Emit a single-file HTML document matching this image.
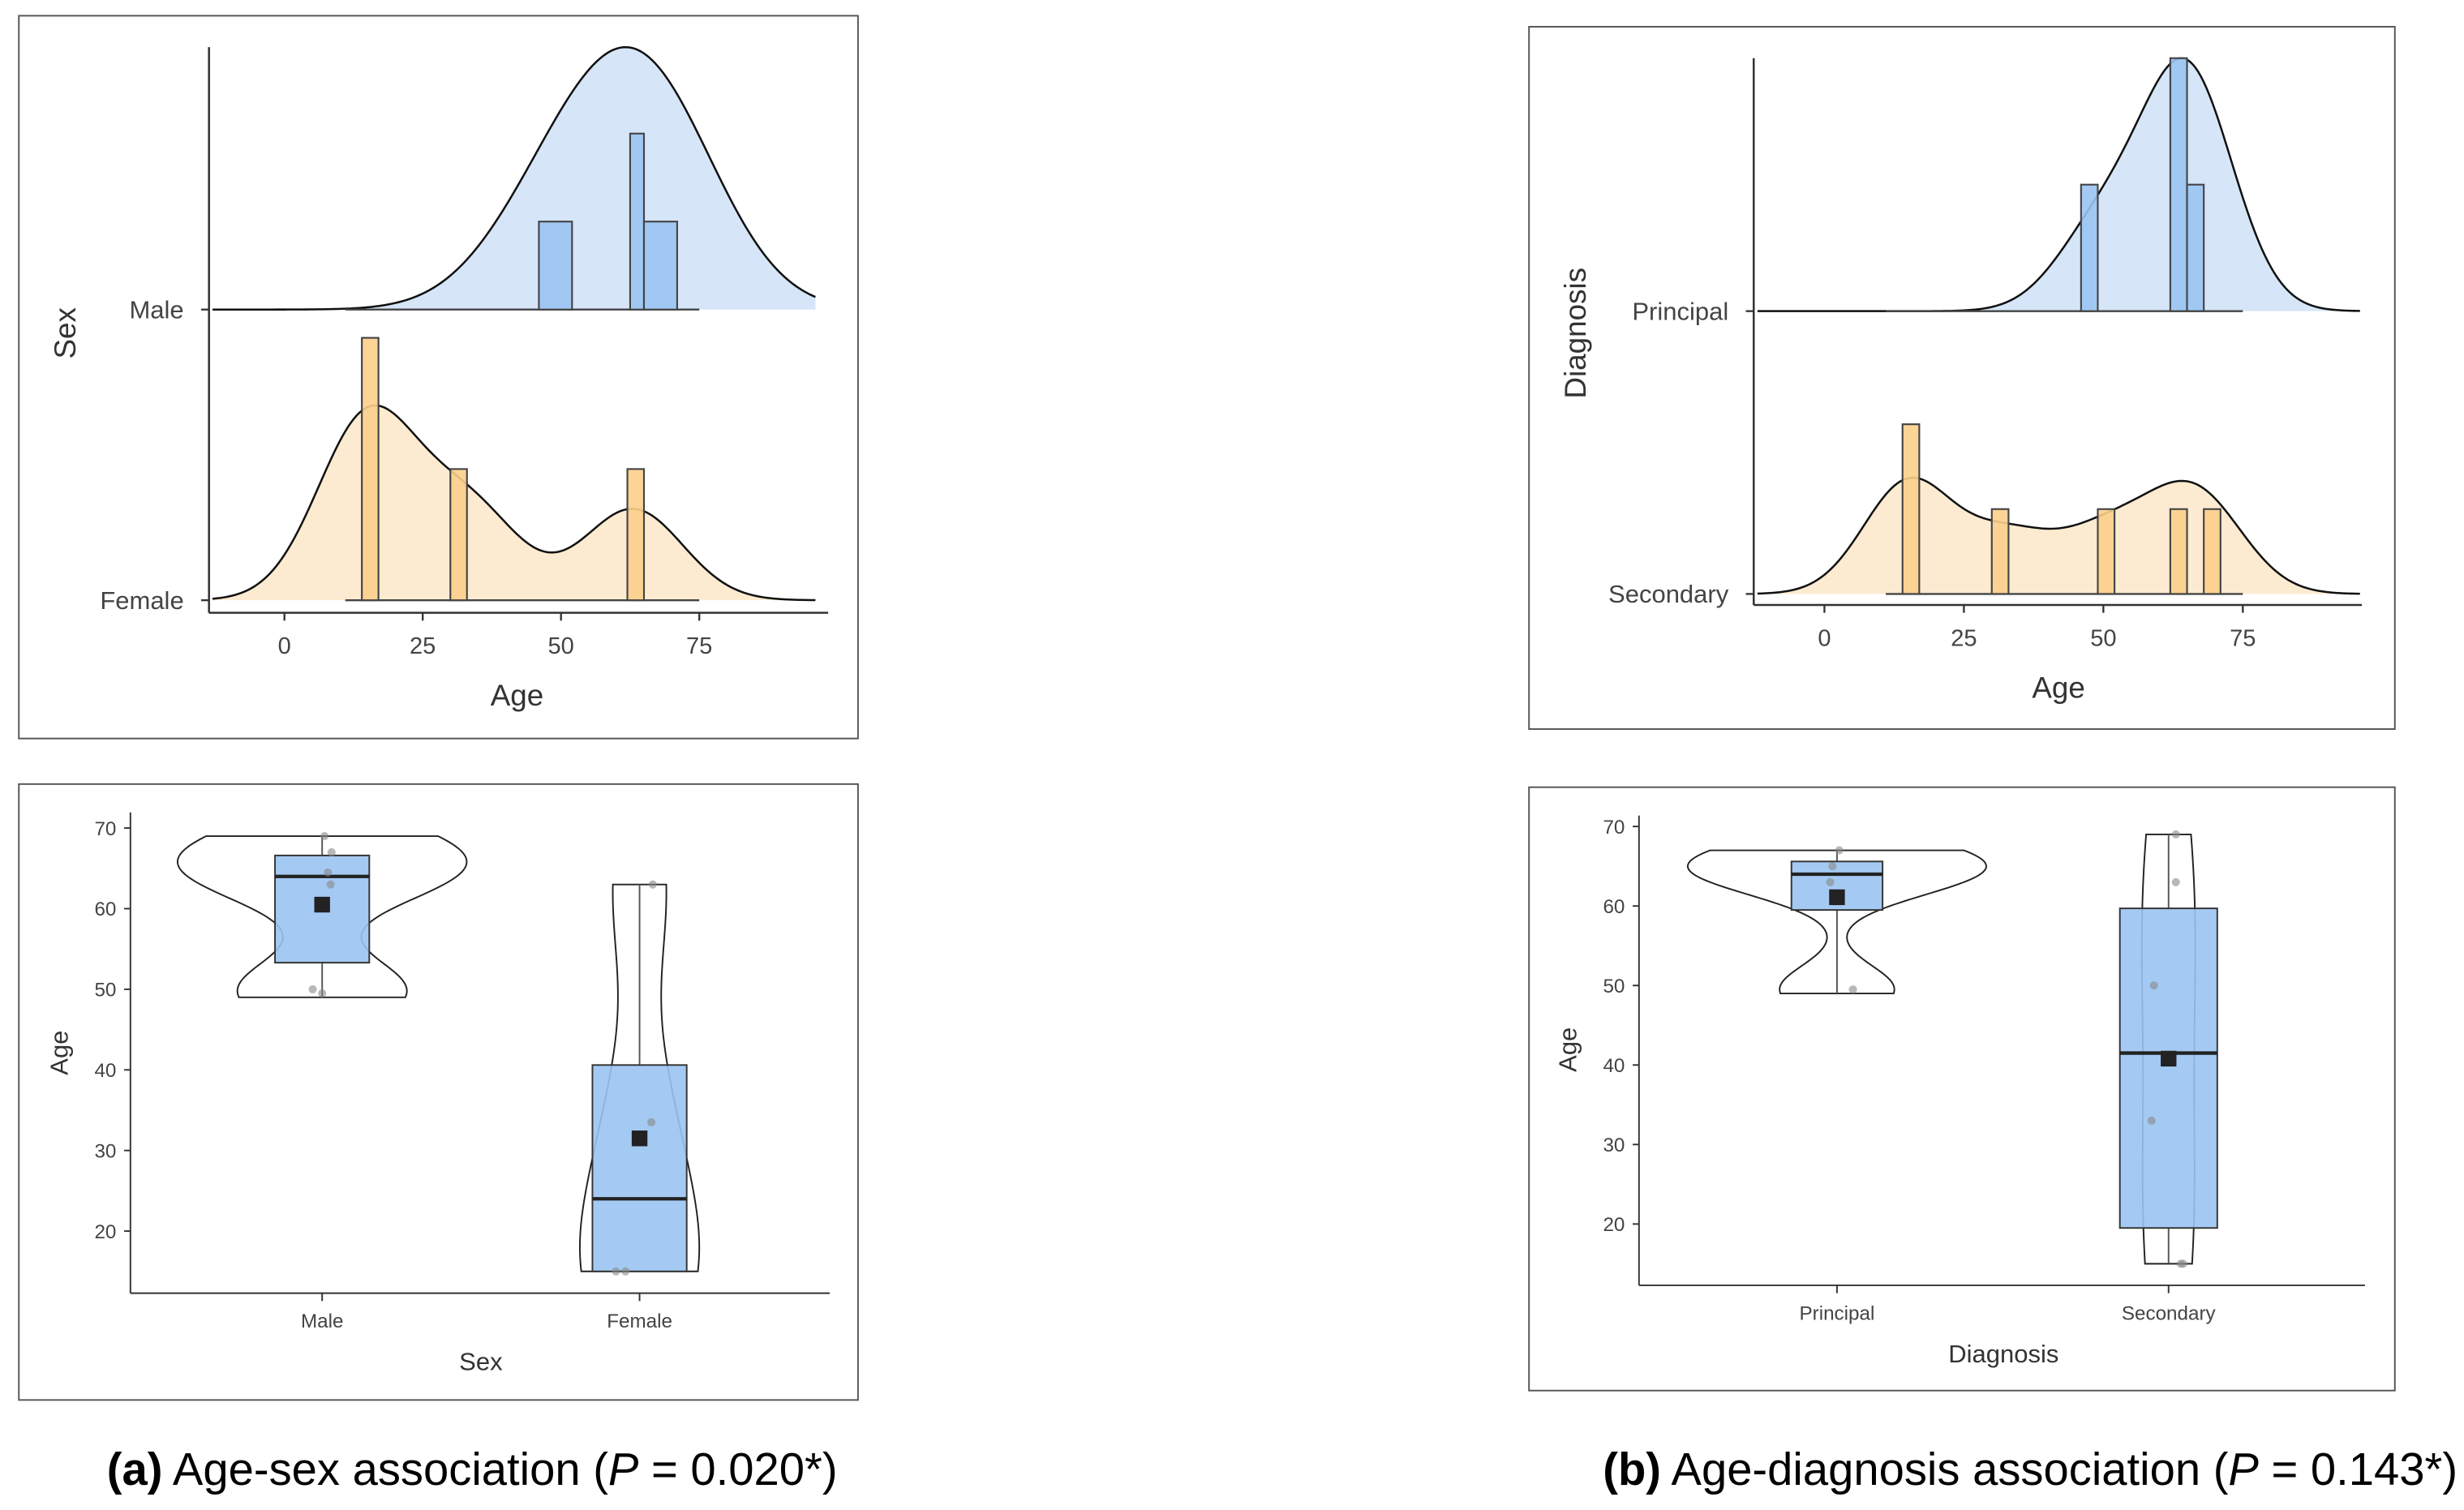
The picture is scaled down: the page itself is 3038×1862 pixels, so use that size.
<!DOCTYPE html>
<html><head><meta charset="utf-8">
<style>
html,body{margin:0;padding:0;background:#fff;}
svg{display:block;}
text{font-family:"Liberation Sans",sans-serif;}
</style></head>
<body>
<svg id="fig" width="3038" height="1862" viewBox="0 0 1568 961" xmlns="http://www.w3.org/2000/svg">
<rect x="0" y="0" width="1568" height="961" fill="#fff"/>
<g id="root"></g>
<text x="68" y="945" font-size="29" fill="#000"><tspan font-weight="bold">(a)</tspan> Age-sex association (<tspan font-style="italic">P</tspan> = 0.020*)</text>
<text x="1020" y="945" font-size="29" fill="#000"><tspan font-weight="bold">(b)</tspan> Age-diagnosis association (<tspan font-style="italic">P</tspan> = 0.143*)</text>
</svg>
<script>
// ---- data ----
const maleAges = [69, 67, 64.5, 63, 50, 49.5];
const femaleAges = [15, 15, 33.5, 63];
const principalAges = [67, 65, 63, 49.5];
const secondaryAges = [15, 15, 33, 50, 63, 69];
const maleBins = [[46,52,1],[62.5,65,2],[65,71,1]];
const femaleBins = [[14,17,2],[30,33,1],[62,65,1]];
const principalBins = [[46,49,1],[62,65,2],[65,68,1]];
const secondaryBins = [[14,17,2],[30,33,1],[49,52,1],[62,65,1],[68,71,1]];
const ridgeTicks = [0,25,50,75];
const boxTicks = [20,30,40,50,60,70];
const maleStats = {min:49, q1:53.3, med:64, q3:66.6, max:69, mean:60.5};
const femaleStats = {min:15, q1:15, med:24, q3:40.6, max:63, mean:31.5};
const principalStats = {min:49, q1:59.5, med:64, q3:65.6, max:67, mean:61.1};
const secondaryStats = {min:15, q1:19.5, med:41.5, q3:59.7, max:69, mean:40.8};
const maleJitter = [0.05,0.2,0.12,0.18,-0.2,0];
const femaleJitter = [-0.5,-0.3,0.25,0.28];
const principalJitter = [0.05,-0.1,-0.15,0.35];
const secondaryJitter = [0.25,0.3,-0.35,-0.3,0.15,0.15];

const NS='http://www.w3.org/2000/svg';
const root=document.getElementById('root');
function el(tag,attrs,parent){const e=document.createElementNS(NS,tag);for(const k in attrs)e.setAttribute(k,attrs[k]);(parent||root).appendChild(e);return e;}
function txt(s,attrs,parent){const e=el('text',attrs,parent);e.textContent=s;return e;}
function kde(data,bw,x){let s=0;for(const d of data){const z=(x-d)/bw;s+=Math.exp(-0.5*z*z);}return s/(data.length*bw*Math.sqrt(2*Math.PI));}

function ridgePanel(o){
  const g=el('g',{});
  
  
  const fr=el('rect',{x:o.bx,y:o.by,width:o.bw,height:o.bh,fill:'#fff',stroke:'#555','stroke-width':1},g);
  
  const xs=v=>o.x0+(v-0)*o.pxPerYear;
  o.groups.forEach(gr=>{
    let maxd=0;const pts=[];
    for(let a=o.amin;a<=o.amax;a+=0.5){const d=kde(gr.ages,gr.bw,a);pts.push([a,d]);if(d>maxd)maxd=d;}
    let p='M'+xs(o.amin)+','+gr.base;
    pts.forEach(q=>{p+=' L'+xs(q[0]).toFixed(2)+','+(gr.base-q[1]/maxd*gr.peak).toFixed(2);});
    const area=el('path',{d:p+' L'+xs(o.amax)+','+gr.base+' Z',fill:gr.fill,stroke:'none'},g);
    
    let lp='';pts.forEach((q,i)=>{lp+=(i?' L':'M')+xs(q[0]).toFixed(2)+','+(gr.base-q[1]/maxd*gr.peak).toFixed(2);});
    const line=el('path',{d:lp,fill:'none',stroke:'#111','stroke-width':1.3},g);
    
    const bl=el('line',{x1:xs(11),x2:xs(75),y1:gr.base,y2:gr.base,stroke:'#444','stroke-width':1.2},g);
    
    const maxc=Math.max(...gr.bins.map(b=>b[2]));
    gr.bins.forEach(b=>{
      const h=b[2]/maxc*gr.histMax;
      const r=el('rect',{x:xs(b[0]),y:gr.base-h,width:xs(b[1])-xs(b[0]),height:h,fill:gr.hist,stroke:'#444','stroke-width':1.1,'fill-opacity':0.9},g);
      
    });
    const tk=el('line',{x1:o.axX-5,x2:o.axX,y1:gr.base,y2:gr.base,stroke:'#333','stroke-width':1.2},g);
    
    const lt=txt(gr.label,{x:o.axX-16,y:gr.base+5.5,'text-anchor':'end','font-size':16,fill:'#444'},g);
    
  });
  const ya=el('line',{x1:o.axX,x2:o.axX,y1:o.yTop,y2:o.axY,stroke:'#333','stroke-width':1.3},g);
  
  const xa=el('line',{x1:o.axX,x2:o.axXEnd,y1:o.axY,y2:o.axY,stroke:'#333','stroke-width':1.3},g);
  
  ridgeTicks.forEach(t=>{
    const l=el('line',{x1:xs(t),x2:xs(t),y1:o.axY,y2:o.axY+5,stroke:'#333','stroke-width':1.2},g);
    
    const s=txt(String(t),{x:xs(t),y:o.axY+26,'text-anchor':'middle','font-size':15,fill:'#444'},g);
    
  });
  const xt=txt('Age',{x:o.xTitleX,y:o.axY+59,'text-anchor':'middle','font-size':19,fill:'#333'},g);
  
  const yt=txt(o.yTitle,{x:0,y:0,'text-anchor':'middle','font-size':19,fill:'#333',transform:'translate('+o.yTitleX+','+o.yTitleY+') rotate(-90)'},g);
  
}

function boxPanel(o){
  const g=el('g',{});
  
  
  const fr=el('rect',{x:o.bx,y:o.by,width:o.bw,height:o.bh,fill:'#fff',stroke:'#555','stroke-width':1},g);
  
  const ys=v=>o.y70+(70-v)*o.pxPerUnit;
  o.groups.forEach(gr=>{
    const s=gr.stats,cx=gr.cx,n=gr.label.toLowerCase();
    let maxd=0;const pts=[];
    for(let a=s.min;a<=s.max+1e-6;a+=(s.max-s.min)/80){const d=kde(gr.ages,gr.vbw,a);pts.push([a,d]);if(d>maxd)maxd=d;}
    let p='';pts.forEach((q,i)=>{p+=(i?' L':'M')+(cx+q[1]/maxd*gr.vw).toFixed(2)+','+ys(q[0]).toFixed(2);});
    for(let i=pts.length-1;i>=0;i--){p+=' L'+(cx-pts[i][1]/maxd*gr.vw).toFixed(2)+','+ys(pts[i][0]).toFixed(2);}
    const v=el('path',{d:p+' Z',fill:'#fff',stroke:'#222','stroke-width':1},g);
    
    const w1=el('line',{x1:cx,x2:cx,y1:ys(s.max),y2:ys(s.q3),stroke:'#555','stroke-width':1},g);
    
    const w2=el('line',{x1:cx,x2:cx,y1:ys(s.q1),y2:ys(s.min),stroke:'#555','stroke-width':1},g);
    
    const b=el('rect',{x:cx-gr.boxHalf,y:ys(s.q3),width:gr.boxHalf*2,height:ys(s.q1)-ys(s.q3),fill:'#9ac4f2','fill-opacity':0.9,stroke:'#333','stroke-width':1},g);
    
    const m=el('line',{x1:cx-gr.boxHalf,x2:cx+gr.boxHalf,y1:ys(s.med),y2:ys(s.med),stroke:'#222','stroke-width':2.2},g);
    
    gr.ages.forEach((a,i)=>{
      const c=el('circle',{cx:cx+gr.jitter[i]*gr.boxHalf,cy:ys(a),r:2.6,fill:'#888','fill-opacity':0.6},g);
      
    });
    const mn=el('rect',{x:cx-5,y:ys(s.mean)-5,width:10,height:10,fill:'#222'},g);
    
    const t=el('line',{x1:cx,x2:cx,y1:o.axY,y2:o.axY+5,stroke:'#333','stroke-width':1},g);
    
    const tl=txt(gr.label,{x:cx,y:o.axY+22,'text-anchor':'middle','font-size':12.5,fill:'#444'},g);
    
  });
  const ya=el('line',{x1:o.axX,x2:o.axX,y1:o.yTop,y2:o.axY,stroke:'#333','stroke-width':1},g);
  
  const xa=el('line',{x1:o.axX,x2:o.axXEnd,y1:o.axY,y2:o.axY,stroke:'#333','stroke-width':1},g);
  
  boxTicks.forEach(t=>{
    const l=el('line',{x1:o.axX-4,x2:o.axX,y1:ys(t),y2:ys(t),stroke:'#333','stroke-width':1},g);
    
    const s=txt(String(t),{x:o.axX-9,y:ys(t)+4.5,'text-anchor':'end','font-size':12.5,fill:'#444'},g);
    
  });
  const xt=txt(o.xTitle,{x:o.xTitleX,y:o.axY+49,'text-anchor':'middle','font-size':16,fill:'#333'},g);
  
  const yt=txt('Age',{x:0,y:0,'text-anchor':'middle','font-size':16,fill:'#333',transform:'translate('+o.yTitleX+','+o.yTitleY+') rotate(-90)'},g);
  
}

ridgePanel({name:'ridge-panel-sex',bx:12,by:10,bw:534,bh:460,x0:181,pxPerYear:3.52,amin:-13,amax:96,
  axX:133,axXEnd:527,axY:390,yTop:30,xTitleX:329,yTitle:'Sex',yTitleX:48,yTitleY:212,
  groups:[
    {label:'Male',ages:maleAges,bins:maleBins,bw:12.5,base:197,peak:167,histMax:112,fill:'#d6e6f8',hist:'#9ac4f2'},
    {label:'Female',ages:femaleAges,bins:femaleBins,bw:9,base:382,peak:124,histMax:167,fill:'#fdebd1',hist:'#fbcf8b'}
  ]});
ridgePanel({name:'ridge-panel-diagnosis',bx:973,by:17,bw:551,bh:447,x0:1161,pxPerYear:3.55,amin:-12,amax:96,
  axX:1116,axXEnd:1503,axY:385,yTop:37,xTitleX:1310,yTitle:'Diagnosis',yTitleX:1009,yTitleY:212,
  groups:[
    {label:'Principal',ages:principalAges,bins:principalBins,bw:8,base:198,peak:161,histMax:161,fill:'#d6e6f8',hist:'#9ac4f2'},
    {label:'Secondary',ages:secondaryAges,bins:secondaryBins,bw:8,base:378,peak:74,histMax:108,fill:'#fdebd1',hist:'#fbcf8b'}
  ]});
boxPanel({name:'box-panel-sex',bx:12,by:499,bw:534,bh:392,y70:527,pxPerUnit:5.13,axX:83,axXEnd:528,axY:823,yTop:517,
  xTitle:'Sex',xTitleX:306,yTitleX:43,yTitleY:670,
  groups:[
    {label:'Male',ages:maleAges,stats:maleStats,jitter:maleJitter,cx:205,boxHalf:30,vbw:4,vw:92},
    {label:'Female',ages:femaleAges,stats:femaleStats,jitter:femaleJitter,cx:407,boxHalf:30,vbw:11,vw:38}
  ]});
boxPanel({name:'box-panel-diagnosis',bx:973,by:501,bw:551,bh:384,y70:526,pxPerUnit:5.06,axX:1043,axXEnd:1505,axY:818,yTop:519,
  xTitle:'Diagnosis',xTitleX:1275,yTitleX:1003,yTitleY:668,
  groups:[
    {label:'Principal',ages:principalAges,stats:principalStats,jitter:principalJitter,cx:1169,boxHalf:29,vbw:3,vw:95},
    {label:'Secondary',ages:secondaryAges,stats:secondaryStats,jitter:secondaryJitter,cx:1380,boxHalf:31,vbw:16,vw:17}
  ]});
</script>
</body></html>
